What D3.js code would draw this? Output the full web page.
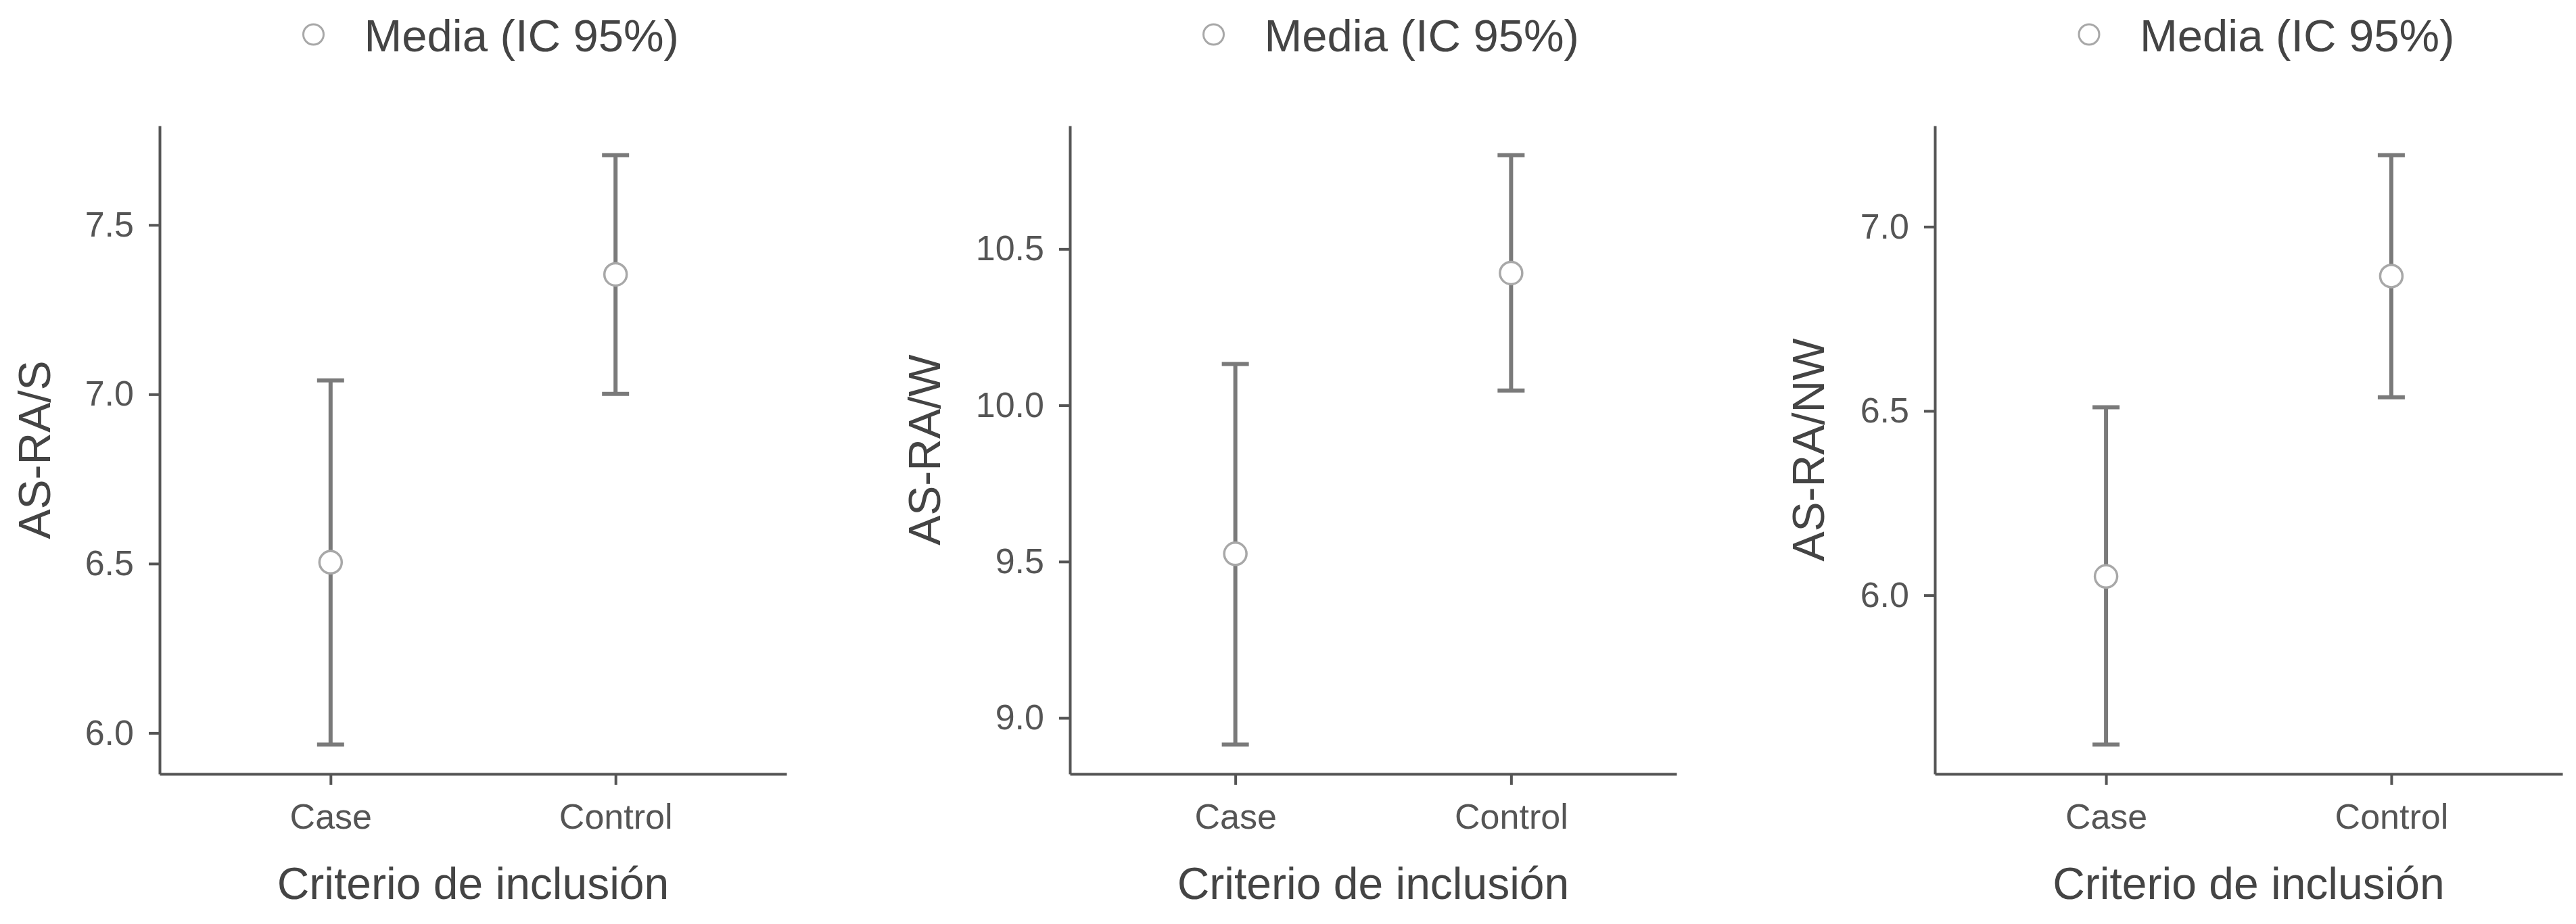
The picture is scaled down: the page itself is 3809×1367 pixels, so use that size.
<!DOCTYPE html>
<html>
<head>
<meta charset="utf-8">
<script src="https://cdn.jsdelivr.net/npm/d3@7"></script>
<style>
  html, body { margin: 0; padding: 0; background: #ffffff; }
  svg { display: block; }
  text { font-family: "Liberation Sans", Arial, sans-serif; }
</style>
</head>
<body>
<svg id="chart" width="3809" height="1367"></svg>
<script>
// ---------------- data ----------------
const categories = ["Case", "Control"];
const yTitles = ["AS-RA/S", "AS-RA/W", "AS-RA/NW"];
const xTitle = "Criterio de inclusión";
const legendLabel = "Media (IC 95%)";

// AS-RA/S
const meanS = [6.504, 7.354];
const lowS  = [5.966, 7.001];
const highS = [7.041, 7.706];
const ticksS = [6.0, 6.5, 7.0, 7.5];

// AS-RA/W
const meanW = [9.525, 10.423];
const lowW  = [8.915, 10.047];
const highW = [10.132, 10.800];
const ticksW = [9.0, 9.5, 10.0, 10.5];

// AS-RA/NW
const meanNW = [6.051, 6.866];
const lowNW  = [5.595, 6.537];
const highNW = [6.510, 7.194];
const ticksNW = [6.0, 6.5, 7.0];

// ---------------- layout ----------------
const panels = [
  { title: yTitles[0], mean: meanS,  low: lowS,  high: highS,  ticks: ticksS,  left: 236,  right: 1163, titleX: 74 },
  { title: yTitles[1], mean: meanW,  low: lowW,  high: highW,  ticks: ticksW,  left: 1582, right: 2479, titleX: 1390 },
  { title: yTitles[2], mean: meanNW, low: lowNW, high: highNW, ticks: ticksNW, left: 2861, right: 3789, titleX: 2697 }
];
const plotTop = 186, plotBottom = 1145;

const axisColor = "#555555";
const tickText = "#555555";
const titleColor = "#444444";
const barColor = "#7a7a7a";
const pointStroke = "#a8a8a8";

const svg = d3.select("#chart");

panels.forEach(p => {
  const g = svg.append("g");
  const lo = d3.min(p.low), hi = d3.max(p.high);
  const pad = (hi - lo) * 0.05;
  const y = d3.scaleLinear().domain([lo - pad, hi + pad]).range([plotBottom, plotTop]);
  const x = d3.scalePoint().domain(categories).range([p.left, p.right]).padding(0.6);

  // y axis
  const ya = g.append("g").attr("transform", `translate(${p.left},0)`)
    .call(d3.axisLeft(y).tickValues(p.ticks).tickSize(16).tickSizeOuter(0).tickPadding(22)
      .tickFormat(d3.format(".1f")));
  ya.select(".domain").attr("stroke", axisColor).attr("stroke-width", 4);
  ya.selectAll(".tick line").attr("stroke", axisColor).attr("stroke-width", 4);
  ya.selectAll(".tick text").attr("fill", tickText).attr("font-size", 52)
    .attr("font-family", "'Liberation Sans', Arial, sans-serif");

  // x axis
  const xa = g.append("g").attr("transform", `translate(0,${plotBottom})`)
    .call(d3.axisBottom(x).tickSize(16).tickSizeOuter(0));
  xa.select(".domain").attr("stroke", axisColor).attr("stroke-width", 4);
  xa.selectAll(".tick line").attr("stroke", axisColor).attr("stroke-width", 4);
  xa.selectAll(".tick text").attr("fill", tickText).attr("font-size", 52)
    .attr("font-family", "'Liberation Sans', Arial, sans-serif")
    .attr("y", 81).attr("dy", null);

  // error bars
  const capW = 20;
  const items = categories.map((c, i) => ({ c, m: p.mean[i], l: p.low[i], h: p.high[i] }));
  const eb = g.append("g");
  eb.selectAll("line.v").data(items).join("line").attr("class", "v")
    .attr("x1", d => x(d.c)).attr("x2", d => x(d.c))
    .attr("y1", d => y(d.l)).attr("y2", d => y(d.h))
    .attr("stroke", barColor).attr("stroke-width", 6);
  eb.selectAll("line.hi").data(items).join("line").attr("class", "hi")
    .attr("x1", d => x(d.c) - capW).attr("x2", d => x(d.c) + capW)
    .attr("y1", d => y(d.h)).attr("y2", d => y(d.h))
    .attr("stroke", barColor).attr("stroke-width", 6);
  eb.selectAll("line.lo").data(items).join("line").attr("class", "lo")
    .attr("x1", d => x(d.c) - capW).attr("x2", d => x(d.c) + capW)
    .attr("y1", d => y(d.l)).attr("y2", d => y(d.l))
    .attr("stroke", barColor).attr("stroke-width", 6);
  g.append("g").selectAll("circle").data(items).join("circle")
    .attr("cx", d => x(d.c)).attr("cy", d => y(d.m)).attr("r", 16.5)
    .attr("fill", "#ffffff").attr("stroke", pointStroke).attr("stroke-width", 3.5);

  // axis titles
  const cx = (p.left + p.right) / 2;
  g.append("text").attr("x", cx).attr("y", 1330).attr("text-anchor", "middle")
    .attr("font-size", 66).attr("fill", titleColor).text(xTitle);
  g.append("text").attr("transform", `translate(${p.titleX},${(plotTop + plotBottom) / 2}) rotate(-90)`)
    .attr("text-anchor", "middle").attr("font-size", 66).attr("fill", titleColor).text(p.title);

  // legend
  const lx = cx + 27;
  g.append("circle").attr("cx", lx - 263).attr("cy", 51).attr("r", 15)
    .attr("fill", "#ffffff").attr("stroke", pointStroke).attr("stroke-width", 3);
  g.append("text").attr("x", lx - 188).attr("y", 76).attr("font-size", 67)
    .attr("fill", titleColor).text(legendLabel);
});
</script>
</body>
</html>
